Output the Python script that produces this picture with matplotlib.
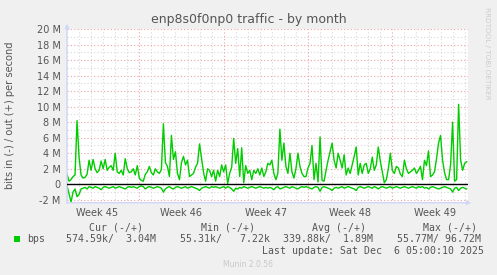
import matplotlib
matplotlib.use("Agg")
import matplotlib.pyplot as plt
import numpy as np
from matplotlib.transforms import blended_transform_factory

# ---------------- data ----------------
title = "enp8s0f0np0 traffic - by month"
ylabel = "bits in (-) / out (+) per second"
step_days = 1.0 / 6.0          # 4-hour samples
week_starts = [6, 13, 20, 27]  # Monday 00:00 of weeks 46..49 (days from left edge)
week_labels = ["Week 45", "Week 46", "Week 47", "Week 48", "Week 49"]
week_label_pos = [2.5, 9.5, 16.5, 23.5, 30.5]
ytick_vals = [-2, 0, 2, 4, 6, 8, 10, 12, 14, 16, 18, 20]
ytick_text = ["-2 M", "0", "2 M", "4 M", "6 M", "8 M", "10 M", "12 M", "14 M", "16 M", "18 M", "20 M"]

# out (+) traffic, Mbit/s
out_mbps = [
    1.3, 0.4, 0.6, 1.0, 1.2, 8.2, 3.5, 1.2, 0.8, 0.9, 1.3, 3.1, 1.8, 3.2, 2.0, 1.5,
    1.8, 3.0, 2.0, 3.2, 1.8, 2.2, 2.4, 1.8, 4.0, 1.6, 1.4, 1.8, 1.2, 3.3, 2.0, 1.5,
    1.6, 2.0, 1.2, 2.4, 0.8, 0.5, 0.4, 1.3, 1.6, 2.3, 1.5, 1.2, 2.0, 1.6, 1.4, 1.9,
    7.8, 2.8, 2.3,
    1.0, 6.3, 3.2, 4.2, 1.4, 0.6, 2.8, 3.6, 2.5, 3.1, 1.0, 1.2, 1.4, 2.2, 2.7, 5.2,
    3.4, 1.5, 0.4, 2.0, 1.8, 1.0, 1.8, 0.4, 1.8, 1.0, 2.5, 1.6, 2.5, 0.1, 1.4, 2.2,
    5.9, 2.7, 4.6, 1.0, 4.7, 0.2, 2.4, 1.4, 1.8, 0.6, 1.8, 1.4, 2.0, 1.2, 2.1, 1.0,
    1.6, 2.7, 2.5, 3.1, 1.4, 0.6, 1.4, 7.1, 3.1, 5.3, 2.3, 1.4, 4.0, 1.6, 0.8, 2.0,
    4.0, 2.3, 1.4, 1.0, 1.0, 2.1, 2.7, 5.0, 0.6, 2.7, 0.3, 6.1, 0.5, 0.4, 1.8, 3.1,
    4.2, 5.3, 3.1, 2.1, 4.0, 3.1, 2.1, 3.8, 1.2, 2.1, 1.4, 2.5, 3.6, 4.8, 1.2, 2.7,
    1.4, 2.5, 2.7, 1.4,
    2.0, 3.5, 1.8, 2.5, 4.8, 3.0, 1.6, 0.2, 0.6, 2.0, 4.0, 1.8, 1.4, 2.3, 2.1, 1.3,
    1.0, 3.1, 2.0, 1.4, 1.6, 1.8, 2.1, 1.4, 1.8, 2.3, 0.6, 3.1, 2.4, 4.3, 1.0, 1.2,
    1.6, 3.3, 5.3, 6.3, 3.1, 1.5, 0.6, 0.6, 2.5, 8.0, 0.4, 0.6, 10.3, 3.1, 1.8, 2.7,
    2.9,
]

# in (-) traffic, Mbit/s (drawn below zero)
in_mbps = [
    0.2, 1.2, 2.3, 1.0, 0.6, 1.6, 1.3, 0.6, 0.5, 0.4, 0.6, 0.3, 0.4, 0.5, 0.3, 0.4,
    0.5, 0.7, 0.4, 0.3, 0.4, 0.5, 0.4, 0.3, 0.5, 0.4, 0.3, 0.4, 0.5, 0.6, 0.4, 0.3,
    0.4, 0.3, 0.4, 0.5, 0.3, 0.2, 0.3, 0.6, 0.4, 0.3, 0.4, 0.5, 0.4, 0.3, 0.4, 0.5,
    1.0, 0.6, 0.4,
    0.3, 0.5, 0.6, 0.4, 0.3, 0.4, 0.5, 0.4, 0.3, 0.5, 0.4, 0.3, 0.4, 0.5, 0.6, 0.8,
    0.5, 0.4, 0.3, 0.4, 0.5, 0.3, 0.4, 0.3, 0.4, 0.5, 0.4, 0.3, 0.5, 0.3, 0.4, 0.6,
    0.9, 0.5, 0.6, 0.4, 0.5, 0.3, 0.4, 0.5, 0.4, 0.3, 0.4, 0.5, 0.4, 0.3, 0.4, 0.5,
    0.4, 0.5, 0.4, 0.5, 0.7, 0.4, 0.3, 0.6, 0.5, 0.4, 0.3, 0.4, 0.5, 0.3, 0.4, 0.5,
    0.6, 0.4, 0.3, 0.4, 0.3, 0.4, 0.5, 0.6, 0.4, 0.3, 0.4, 0.9, 0.4, 0.3, 0.4, 0.5,
    0.6, 0.8, 0.5, 0.4, 0.5, 0.4, 0.3, 0.5, 0.4, 0.3, 0.4, 0.5, 0.6, 0.8, 0.4, 0.3,
    0.4, 0.5, 0.4, 0.3,
    0.4, 0.5, 0.3, 0.4, 0.6, 0.4, 0.3, 0.4, 0.5, 0.4, 0.3, 0.5, 0.4, 0.3, 0.4, 0.5,
    0.4, 0.3, 0.4, 0.5, 0.4, 0.3, 0.4, 0.5, 0.3, 0.4, 0.3, 0.5, 0.4, 0.6, 0.4, 0.3,
    0.4, 0.5, 0.6, 0.5, 0.4, 0.3, 0.4, 0.5, 0.6, 1.0, 0.5, 0.4, 0.8, 0.5, 0.4, 0.5,
    0.6,
]

legend_name = "bps"
legend_headers = ["Cur (-/+)", "Min (-/+)", "Avg (-/+)", "Max (-/+)"]
legend_values = ["574.59k/  3.04M", "55.31k/   7.22k", "339.88k/  1.89M", "55.77M/ 96.72M"]
last_update = "Last update: Sat Dec  6 05:00:10 2025"
footer = "Munin 2.0.56"
watermark = "RRDTOOL / TOBI OETIKER"

# ---------------- figure ----------------
W, H = 497, 275
fig = plt.figure(figsize=(W / 100, H / 100), dpi=100, facecolor="#F0F0F0")

def fx(px):
    return px / W

def fy(py):
    return 1 - py / H

left_px, right_px, top_px, bot_px = 67, 468, 29, 202.7
ax = fig.add_axes([fx(left_px), fy(bot_px), fx(right_px - left_px), (bot_px - top_px) / H])
ax.set_facecolor("#FFFFFF")

out_v = np.array(out_mbps) * 1e6
in_v = -np.array(in_mbps) * 1e6
t = np.arange(len(out_v)) * step_days

xmax = (right_px - left_px) / 12.05
ax.set_xlim(0, xmax)
ax.set_ylim(-2.37e6, 20e6)

grid_minor = "#D8D8D8"
grid_major = "#EFA3A3"
dot = (0, (1, 2))
# horizontal grid
for v in range(-2, 21):
    is_major = v % 2 == 0
    ax.axhline(v * 1e6, color=grid_major if is_major else grid_minor, lw=0.8,
               linestyle=dot, zorder=1)
# vertical grid
for d in range(0, int(xmax) + 1):
    is_major = d in week_starts
    ax.axvline(d, color=grid_major if is_major else grid_minor, lw=0.8,
               linestyle=dot, zorder=1)

ax.plot(t, out_v, color="#00CC00", lw=1.0, zorder=3)
ax.plot(t, in_v, color="#00CC00", lw=1.0, zorder=3)
ax.axhline(0, color="#000000", lw=1.0, zorder=4)

for s in ax.spines.values():
    s.set_visible(False)
ax.set_xticks([])
ax.set_yticks([v * 1e6 for v in ytick_vals])
ax.set_yticklabels(ytick_text)
ax.tick_params(axis="y", length=0, pad=4.5, labelsize=7, labelcolor="#555555")

# week labels
tr = blended_transform_factory(ax.transData, fig.transFigure)
for pos, lab in zip(week_label_pos, week_labels):
    ax.text(pos, fy(212.7), lab, transform=tr, ha="center", va="center",
            fontsize=7, color="#555555")

# axes lines with arrows
axis_col = "#CFD6F8"
ax.annotate("", xy=(fx(474), fy(bot_px)), xytext=(fx(left_px - 3), fy(bot_px)),
            xycoords="figure fraction", textcoords="figure fraction",
            arrowprops=dict(arrowstyle="-|>", mutation_scale=6, color=axis_col, lw=1),
            annotation_clip=False)
ax.annotate("", xy=(fx(left_px), fy(21)), xytext=(fx(left_px), fy(206)),
            xycoords="figure fraction", textcoords="figure fraction",
            arrowprops=dict(arrowstyle="-|>", mutation_scale=6, color=axis_col, lw=1),
            annotation_clip=False)

# title and labels
fig.text(fx(249), fy(19), title, ha="center", va="center", fontsize=9, color="#555555")
fig.text(fx(10), fy(115), ylabel, ha="center", va="center", rotation=90,
         fontsize=7.1, color="#555555")
fig.text(fx(487), fy(53), watermark, ha="center", va="center", rotation=270,
         fontsize=5.2, color="#CCCCCC")

# legend
mono = "DejaVu Sans Mono"
hdr_x = [89.3, 200.7, 312.3, 422.7]
val_x = [66.3, 180.0, 283.3, 396.7]
for x, s in zip(hdr_x, legend_headers):
    fig.text(fx(x), fy(227.7), s, ha="left", va="center", fontsize=7.1,
             family=mono, color="#555555")
for x, s in zip(val_x, legend_values):
    fig.text(fx(x), fy(239.3), s, ha="left", va="center", fontsize=7.1,
             family=mono, color="#555555")
fig.add_artist(matplotlib.patches.Rectangle((fx(14), fy(242)), fx(6), 6 / H,
                                            transform=fig.transFigure,
                                            facecolor="#00CC00", edgecolor="none"))
fig.text(fx(26.7), fy(239.3), legend_name, ha="left", va="center", fontsize=7.1,
         family=mono, color="#555555")
fig.text(fx(261.7), fy(250.7), last_update, ha="left", va="center", fontsize=7.1,
         family=mono, color="#555555")
fig.text(fx(248), fy(264.3), footer, ha="center", va="center", fontsize=5.5,
         color="#C8C8C8")

fig.savefig("out.png", dpi=100, facecolor=fig.get_facecolor())
